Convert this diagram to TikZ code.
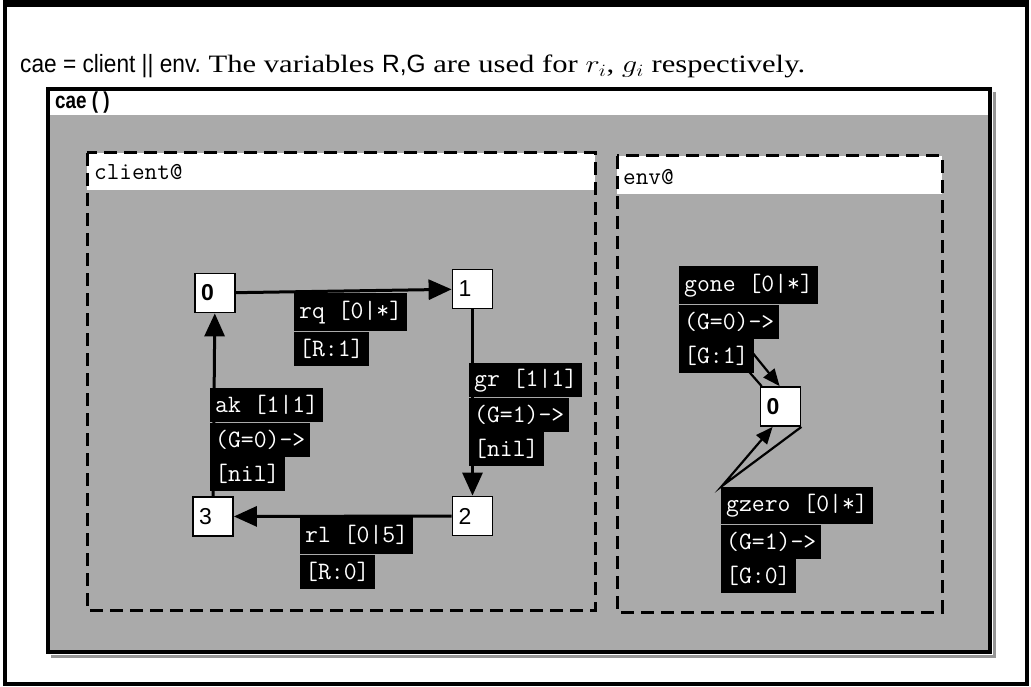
\documentclass[tikz,border=0pt]{standalone}
\usepackage{fontspec}
\usepackage{graphicx}
\setmainfont{Liberation Serif}
\setsansfont{Liberation Sans}
\usetikzlibrary{arrows.meta}
\definecolor{panelgray}{RGB}{170,170,170}
\definecolor{shadowgray}{RGB}{150,150,150}
\begin{document}
\begin{tikzpicture}[x=1pt,y=-1pt,
  statebox/.style={draw=black, line width=1.8pt, fill=white, minimum height=39pt,
    text width=28pt, inner xsep=6pt, inner ysep=0pt, align=left,
    font=\fontsize{23}{23}\selectfont\sffamily},
  lbl/.style={fill=black, text=white, font=\fontsize{25}{25}\selectfont\ttfamily,
    inner xsep=5pt, inner ysep=0pt, minimum height=34pt, anchor=north west},
  edge/.style={line width=3pt, -{Triangle[length=23pt,width=20pt]}},
  loopedge/.style={line width=2.2pt, -{Triangle[length=17pt,width=14pt]}},
  compbox/.style={draw=black, line width=3pt, dash pattern=on 13pt off 7pt},
  hdrtext/.style={anchor=west, inner sep=0pt, font=\fontsize{24.5}{25}\selectfont\ttfamily}]
\useasboundingbox (0,0) rectangle (1031,687);
% outer frame
\fill[white] (0,0) rectangle (1031,687);
\draw[line width=4pt] (5,3) rectangle (1027,684);
\fill[black] (3,0) rectangle (1029,7);
% title
\node[anchor=base west, inner sep=0pt] (title) at (20,73)
  {\resizebox{785pt}{\height}{\fontsize{25}{25}\selectfont\scalebox{0.74}[1]{\sffamily cae = client || env.} The variables \scalebox{0.8}[1]{\sffamily R,G} are used for $r_i$, $g_i$ respectively.}};
% cae box
\draw[shadowgray, line width=3pt] (994,92) -- (994,656) -- (51,656);
\fill[panelgray] (48,89) rectangle (990,652);
\fill[white] (48,89) rectangle (990,115);
\draw[black, line width=3.5pt] (48,89) rectangle (990,652);
\node[anchor=west, inner sep=0pt, font=\fontsize{23}{23}\selectfont\sffamily\bfseries] (caehdr) at (55,103) {\scalebox{0.82}[1]{cae ( )}};
% client component
\fill[white] (87,153) rectangle (595,190);
\draw[compbox] (87,153) rectangle (595,610);
\node[hdrtext] (clienthdr) at (94,172) {client@};
% env component
\fill[white] (617,156) rectangle (942,194);
\draw[compbox] (617,156) rectangle (942,612);
\node[hdrtext] (envhdr) at (623,177) {env@};
% client states
\node[statebox, font=\fontsize{23}{23}\selectfont\sffamily\bfseries] (c0) at (215,293) {0};
\node[statebox] (c1) at (472.5,289) {1};
\node[statebox] (c2) at (472.5,516) {2};
\node[statebox] (c3) at (213,516.5) {3};
% client edges
\draw[edge] (c0) -- (c1);
\draw[edge] (c1) -- (c2);
\draw[edge] (c2) -- (c3);
\draw[edge] (c3) -- (c0);
% client labels
\node[lbl, minimum height=38pt] (rq1) at (294,293) {rq [0|*]};
\node[lbl] (rq2) at (rq1.south west) {[R:1]};
\node[lbl] (gr1) at (469,363) {gr [1|1]};
\node[lbl] (gr2) at (gr1.south west) {(G=1)->};
\node[lbl] (gr3) at (gr2.south west) {[nil]};
\node[lbl, minimum height=38pt] (rl1) at (300,516) {rl [0|5]};
\node[lbl] (rl2) at (rl1.south west) {[R:0]};
\node[lbl] (ak1) at (210,388) {ak [1|1]};
\node[lbl] (ak2) at (ak1.south west) {(G=0)->};
\node[lbl] (ak3) at (ak2.south west) {[nil]};
% env state
\node[statebox, font=\fontsize{23}{23}\selectfont\sffamily\bfseries] (e0) at (780.5,406.5) {0};
% env loops
\coordinate (ga) at (730,350);
\coordinate (gb) at (730,325);
\coordinate (gz) at (722,486);
\draw[loopedge] ([xshift=2pt]e0.north west) -- (ga) -- (gb) -- ([xshift=20pt]e0.north west);
\draw[loopedge] (e0.south east) -- (gz) -- ([xshift=13pt]e0.south west);
% env labels
\node[lbl, minimum height=38pt] (go1) at (679,266) {gone [0|*]};
\node[lbl] (go2) at (go1.south west) {(G=0)->};
\node[lbl] (go3) at (go2.south west) {[G:1]};
\node[lbl, minimum height=37pt] (gz1) at (721,487) {gzero [0|*]};
\node[lbl] (gz2) at (gz1.south west) {(G=1)->};
\node[lbl] (gz3) at (gz2.south west) {[G:0]};
\end{tikzpicture}
\end{document}
